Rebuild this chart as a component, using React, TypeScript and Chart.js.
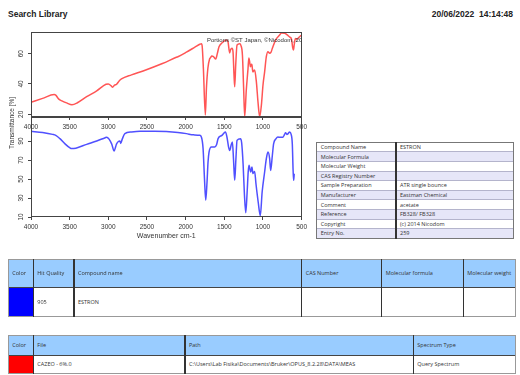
import React, { useEffect, useRef } from "react";
import { Chart, registerables } from "chart.js";
Chart.register(...registerables);

const AXIS_FONT = "'Liberation Sans', Arial, sans-serif";
const TABLE_FONT = "'Open Sans', 'Noto Sans', sans-serif";

// ---------- data ----------
const WN_TICKS = [4000, 3500, 3000, 2500, 2000, 1500, 1000, 500];
const TOP_Y_TICKS = [20, 40, 60];
const BOTTOM_Y_TICKS = [10, 30, 50, 70, 90];

// Query spectrum (red) – wavenumber / transmittance
const QUERY_WN = [
  4000, 3850, 3700, 3680, 3640, 3600, 3540, 3470, 3400, 3280,
  3150, 3030, 3000, 2960, 2945, 2920, 2893, 2860, 2830, 2700,
  2550, 2300, 2120, 2100, 1990, 1880, 1817, 1795, 1785, 1770,
  1745, 1730, 1712, 1690, 1680, 1660, 1640, 1610, 1590, 1568,
  1520, 1472, 1452, 1430, 1420, 1400, 1387, 1374, 1365, 1352,
  1335, 1300, 1285, 1265, 1250, 1236, 1215, 1193, 1182, 1170,
  1162, 1150, 1142, 1130, 1115, 1107, 1085, 1064, 1042, 1020,
  999, 978, 956, 935, 913, 895, 878, 836, 784, 760,
  720, 690, 655, 630, 615, 605, 595, 580, 560, 540,
  510, 500,
];
const QUERY_T = [
  27.9, 30.5, 33.0, 32.6, 30.0, 28.8, 27.5, 26.3, 27.6, 31.6,
  35.5, 39.8, 40.0, 38.6, 37.8, 39.2, 39.8, 42.0, 43.3, 46.0,
  48.6, 53.5, 57.6, 58.0, 61.0, 64.3, 66.2, 66.6, 64.6, 50.0,
  19.5, 38.0, 50.4, 56.5, 57.2, 58.4, 58.0, 56.5, 60.0, 64.6,
  67.5, 69.0, 67.9, 60.5, 62.4, 63.6, 61.3, 46.0, 38.2, 52.5,
  65.7, 66.5, 65.5, 59.0, 38.0, 18.4, 36.0, 50.0, 57.2, 54.0,
  51.4, 53.0, 52.5, 48.0, 49.0, 49.2, 41.5, 28.3, 18.4, 26.0,
  39.3, 48.0, 58.0, 61.3, 60.2, 61.0, 63.5, 69.0, 72.3, 73.6,
  73.5, 72.6, 71.0, 69.5, 64.0, 62.4, 66.0, 70.0, 69.5, 70.5,
  71.9, 72.2,
];

// Library hit (blue) – ESTRON
const HIT_WN = [
  4000, 3850, 3720, 3680, 3626, 3560, 3500, 3474, 3420, 3280,
  3150, 3040, 3022, 2990, 2957, 2924, 2905, 2893, 2870, 2850,
  2840, 2820, 2786, 2700, 2590, 2400, 2250, 2100, 1990, 1900,
  1817, 1795, 1774, 1756, 1740, 1723, 1710, 1697, 1666, 1624,
  1600, 1580, 1530, 1485, 1465, 1445, 1430, 1410, 1395, 1380,
  1365, 1350, 1335, 1290, 1275, 1256, 1240, 1222, 1205, 1190,
  1180, 1158, 1142, 1129, 1107, 1090, 1060, 1034, 1010, 978,
  956, 935, 913, 900, 878, 862, 830, 806, 780, 741,
  720, 707, 690, 677, 655, 635, 620, 610, 603, 595,
];
const HIT_T = [
  100.2, 99.0, 97.0, 96.0, 92.5, 87.0, 83.0, 82.0, 82.5, 86.5,
  90.0, 93.5, 94.0, 92.0, 87.0, 79.5, 84.0, 87.0, 89.5, 90.0,
  87.5, 92.0, 97.8, 99.5, 100.2, 100.4, 100.0, 99.0, 97.8, 96.5,
  96.0, 94.0, 82.0, 50.4, 27.6, 46.8, 67.9, 78.4, 83.7, 83.7,
  86.0, 92.5, 96.0, 99.5, 94.0, 84.0, 80.0, 86.0, 89.0, 70.0,
  48.6, 70.0, 90.7, 92.5, 88.0, 65.0, 35.0, 14.4, 35.0, 58.0,
  64.4, 57.4, 62.6, 55.7, 58.0, 45.0, 25.0, 11.5, 36.3, 57.4,
  71.5, 78.4, 71.5, 59.0, 75.0, 87.0, 92.5, 94.2, 94.0, 94.0,
  97.0, 98.8, 97.0, 97.5, 99.5, 97.0, 87.0, 60.0, 48.6, 55.7,
];

const INFO_LABELS = [
  "Compound Name", "Molecular Formula", "Molecular Weight", "CAS Registry Number",
  "Sample Preparation", "Manufacturer", "Comment", "Reference", "Copyright", "Entry No.",
];
const INFO_VALUES = [
  "ESTRON", "", "", "", "ATR single bounce", "Eastman Chemical", "acetate",
  "FB328/ FB328", "(c) 2014 Nicodom", "259",
];

const HIT_HEADERS = ["Color", "Hit Quality", "Compound name", "CAS Number", "Molecular formula", "Molecular weight"];
const HIT_ROW = ["", "905", "ESTRON", "", "", ""];
const FILE_HEADERS = ["Color", "File", "Path", "Spectrum Type"];
const FILE_ROW = ["", "CAZEO - 6%.0", "C:\\Users\\Lab Fisika\\Documents\\Bruker\\OPUS_8.2.28\\DATA\\MEAS", "Query Spectrum"];

const NOTE = "Portions \u00A9ST Japan, \u00A9Nicodom, 2014";

// ---------- chart ----------
const framePlugin = {
  id: "frame",
  afterDatasetsDraw(chart: any, _args: any, opts: any) {
    const { ctx, chartArea: a } = chart;
    ctx.save();
    ctx.strokeStyle = "#444";
    ctx.lineWidth = 1;
    const l = Math.round(a.left) + 0.5;
    const t = Math.round(a.top) + 0.5;
    const r = Math.round(a.right) - 0.5;
    const b = Math.round(a.bottom) - 0.5;
    ctx.strokeRect(l, t, r - l, b - t);
    if (opts && opts.note) {
      ctx.beginPath();
      ctx.rect(a.left, a.top, a.right - a.left, a.bottom - a.top);
      ctx.clip();
      ctx.font = `6px ${AXIS_FONT}`;
      ctx.fillStyle = "#333";
      ctx.textAlign = "left";
      ctx.textBaseline = "middle";
      ctx.fillText(opts.note, opts.noteX, opts.noteY);
    }
    ctx.restore();
  },
};

type SpecProps = {
  top: number;
  height: number;
  areaTop: number;
  xAxisHeight: number;
  wn: number[];
  values: number[];
  color: string;
  yMin: number;
  yMax: number;
  yTicks: number[];
  note?: string;
  xTitle?: string;
};

function Spectrum(p: SpecProps) {
  const ref = useRef<HTMLCanvasElement>(null);
  useEffect(() => {
    const tickFont = { family: AXIS_FONT, size: 6.5 };
    const chart = new Chart(ref.current!, {
      type: "line",
      data: {
        datasets: [
          {
            data: p.wn.map((w, i) => ({ x: w, y: p.values[i] })),
            borderColor: p.color,
            borderWidth: 1.5,
            pointRadius: 0,
            fill: false,
            cubicInterpolationMode: "monotone",
          },
        ],
      },
      options: {
        responsive: false,
        animation: false,
        devicePixelRatio: 1,
        layout: { padding: { left: 0, right: 8, top: p.areaTop, bottom: 0 } },
        plugins: {
          legend: { display: false },
          tooltip: { enabled: false },
          frame: { note: p.note, noteX: 207, noteY: 40 },
        } as any,
        scales: {
          x: {
            type: "linear",
            reverse: true,
            min: 500,
            max: 4000,
            afterBuildTicks: (s: any) => {
              s.ticks = WN_TICKS.map((v) => ({ value: v }));
            },
            afterFit: (s: any) => {
              s.height = p.xAxisHeight;
            },
            grid: { display: true, drawOnChartArea: false, drawTicks: true, tickLength: 3, color: "#444" },
            border: { display: false },
            ticks: {
              autoSkip: false,
              maxRotation: 0,
              padding: 3,
              font: tickFont,
              color: "#333",
              callback: (v: any) => String(v),
            },
            title: {
              display: !!p.xTitle,
              text: p.xTitle || "",
              font: { family: AXIS_FONT, size: 7 },
              color: "#333",
              padding: { top: 0, bottom: 9.3 },
            },
          },
          y: {
            type: "linear",
            min: p.yMin,
            max: p.yMax,
            afterBuildTicks: (s: any) => {
              s.ticks = p.yTicks.map((v) => ({ value: v }));
            },
            afterFit: (s: any) => {
              s.width = 31;
            },
            grid: { display: true, drawOnChartArea: false, drawTicks: true, tickLength: 3, color: "#444" },
            border: { display: false },
            ticks: {
              minRotation: 90,
              maxRotation: 90,
              crossAlign: "center",
              padding: 3,
              font: tickFont,
              color: "#333",
              callback: (v: any) => String(v),
            },
          },
        },
      } as any,
      plugins: [framePlugin],
    });
    return () => chart.destroy();
  }, []);
  return (
    <canvas
      ref={ref}
      width={310}
      height={p.height}
      style={{ position: "absolute", left: 0, top: p.top, width: 310, height: p.height }}
    />
  );
}

// ---------- tables ----------
type GridProps = {
  xs: number[];
  ys: number[];
  rows: string[][];
  fill: (r: number, c: number) => string;
  hLine: (i: number) => string;
  vLine: (i: number) => string;
  vWidth: (i: number) => number;
  padX: number;
  fontSize: number;
};

function Grid(g: GridProps) {
  const els: any[] = [];
  g.rows.forEach((row, r) => {
    row.forEach((txt, c) => {
      els.push(
        <div
          key={`c${r}-${c}`}
          style={{
            position: "absolute",
            left: g.xs[c],
            top: g.ys[r],
            width: g.xs[c + 1] - g.xs[c],
            height: g.ys[r + 1] - g.ys[r],
            background: g.fill(r, c),
            display: "flex",
            alignItems: "center",
            paddingLeft: g.padX + 1,
            boxSizing: "border-box",
            fontFamily: TABLE_FONT,
            fontSize: g.fontSize,
            color: "#333",
            whiteSpace: "nowrap",
            overflow: "hidden",
          }}
        >
          {txt}
        </div>
      );
    });
  });
  const x0 = g.xs[0];
  const x1 = g.xs[g.xs.length - 1];
  const y0 = g.ys[0];
  const y1 = g.ys[g.ys.length - 1];
  g.ys.forEach((y, i) => {
    els.push(
      <div
        key={`h${i}`}
        style={{ position: "absolute", left: x0, top: y - 0.5, width: x1 - x0, height: 1, background: g.hLine(i) }}
      />
    );
  });
  g.xs.forEach((x, i) => {
    const w = g.vWidth(i);
    els.push(
      <div
        key={`v${i}`}
        style={{ position: "absolute", left: x - w / 2, top: y0 - 0.5, width: w, height: y1 - y0 + 1, background: g.vLine(i) }}
      />
    );
  });
  return <>{els}</>;
}

export default function App() {
  const infoYs = INFO_LABELS.map((_, i) => 142.3 + i * 9.6).concat([142.3 + INFO_LABELS.length * 9.6]);
  return (
    <div style={{ position: "fixed", left: 0, top: 0, width: 520, height: 375, background: "#fff", overflow: "hidden" }}>
      <div
        style={{
          position: "absolute", left: 8, top: 9, fontFamily: AXIS_FONT, fontWeight: "bold",
          fontSize: 8.5, lineHeight: "10px", color: "#222", whiteSpace: "nowrap",
        }}
      >
        Search Library
      </div>
      <div
        style={{
          position: "absolute", right: 7, top: 9, fontFamily: AXIS_FONT, fontWeight: "bold",
          fontSize: 8.5, lineHeight: "10px", color: "#222", whiteSpace: "pre",
        }}
      >
        {"20/06/2022  14:14:48"}
      </div>

      <Spectrum
        top={110}
        height={140}
        areaTop={7}
        xAxisHeight={33}
        wn={HIT_WN}
        values={HIT_T}
        color="rgb(80,80,255)"
        yMin={10}
        yMax={115.3}
        yTicks={BOTTOM_Y_TICKS}
        xTitle="Wavenumber cm-1"
      />
      <Spectrum
        top={0}
        height={140}
        areaTop={32}
        xAxisHeight={23}
        wn={QUERY_WN}
        values={QUERY_T}
        color="rgb(255,85,85)"
        yMin={18.2}
        yMax={74.3}
        yTicks={TOP_Y_TICKS}
        note={NOTE}
      />

      <div
        style={{
          position: "absolute", left: 11, top: 123, transform: "translate(-50%,-50%) rotate(-90deg)",
          fontFamily: AXIS_FONT, fontSize: 6.5, color: "#333", whiteSpace: "nowrap",
        }}
      >
        Transmittance [%]
      </div>

      <Grid
        xs={[316.7, 396, 513]}
        ys={infoYs}
        rows={INFO_LABELS.map((l, i) => [l, INFO_VALUES[i]])}
        fill={(r) => (r % 2 === 1 ? "#e6e6f8" : "#ffffff")}
        hLine={(i) => (i === 0 || i === INFO_LABELS.length ? "#777" : "#b4b4cc")}
        vLine={(i) => (i === 1 ? "#333" : "#777")}
        vWidth={(i) => (i === 1 ? 1.2 : 1)}
        padX={3}
        fontSize={5.5}
      />

      <Grid
        xs={[8.3, 33.3, 74, 301.7, 381.7, 463.3, 515]}
        ys={[259.3, 287.3, 316.7]}
        rows={[HIT_HEADERS, HIT_ROW]}
        fill={(r, c) => (r === 0 ? "#99ccff" : c === 0 ? "#0000ff" : "#ffffff")}
        hLine={(i) => (i === 1 ? "#444" : "#999")}
        vLine={(i) => (i === 0 || i === 6 ? "#999" : "#333")}
        vWidth={(i) => (i === 0 || i === 6 ? 1 : 1.3)}
        padX={3}
        fontSize={5.5}
      />

      <Grid
        xs={[8.3, 33.3, 185, 413.3, 515]}
        ys={[335, 355, 373.3]}
        rows={[FILE_HEADERS, FILE_ROW]}
        fill={(r, c) => (r === 0 ? "#99ccff" : c === 0 ? "#ff0000" : "#ffffff")}
        hLine={(i) => (i === 1 ? "#444" : "#999")}
        vLine={(i) => (i === 0 || i === 4 ? "#999" : "#333")}
        vWidth={(i) => (i === 0 || i === 4 ? 1 : 1.3)}
        padX={3}
        fontSize={5.5}
      />
    </div>
  );
}
